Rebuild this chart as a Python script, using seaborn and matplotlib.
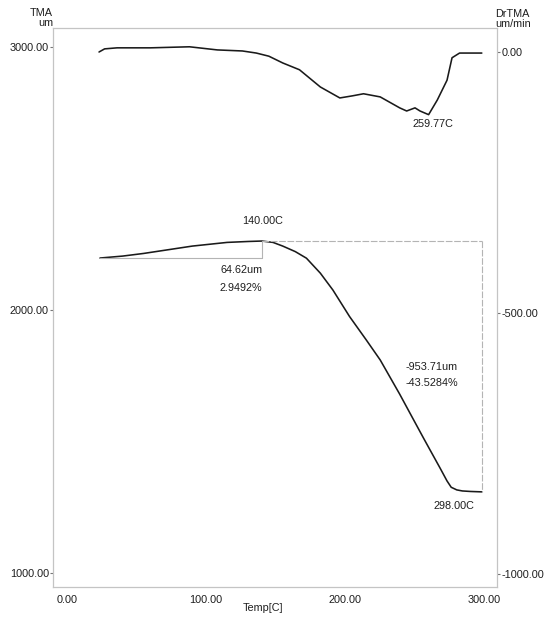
import matplotlib
matplotlib.use("Agg")
import matplotlib.pyplot as plt
from matplotlib.ticker import FormatStrFormatter, FixedLocator
import seaborn as sns
import pandas as pd

# TMA signal (left axis, um) versus temperature
tma_temp = [23.7, 40, 55, 70, 90, 115, 130, 140, 148, 155, 164, 172, 182, 191,
            203, 215, 225, 239, 248, 256, 261, 268, 273, 276, 280, 284, 290, 298]
tma_um = [2197.6, 2205, 2215, 2227, 2243, 2257, 2260.5, 2262.2, 2257, 2243, 2222,
          2197, 2140, 2076, 1975, 1886, 1810, 1680, 1592, 1514, 1466, 1399, 1350,
          1326, 1316, 1312, 1310, 1308.5]

# Derivative signal (right axis, um/min) versus temperature
dr_temp = [23, 27, 36, 60, 88, 108, 126, 136, 145, 155, 167, 182, 196, 205, 213,
           225, 239, 244, 247, 250, 253.6, 259.77, 266, 273, 276.6, 282, 298]
dr_um_min = [0, 6, 8, 8, 10, 4, 2, -2, -8, -21, -34, -67, -88, -84, -80, -86,
             -107, -113, -110, -107, -113, -120, -92, -54, -11, -2, -2]

# Analysis markers
onset_temp = 140.00
end_temp = 298.00
peak_temp = 259.77
rise_um = 64.62
rise_pct = "2.9492%"
drop_um = -953.71
drop_pct = "-43.5284%"

x_ticks = [0, 100, 200, 300]
left_ticks = [1000, 2000, 3000]
right_ticks = [-1000, -500, 0]

sns.set_theme(style="white")
plt.rcParams["font.family"] = ["Liberation Sans", "DejaVu Sans"]
plt.rcParams["axes.unicode_minus"] = False

txt = "#1e1e1e"
frame = "#c4c4c4"
guide = "#b4b4b4"
fs = 7.8

fig = plt.figure(figsize=(5.5, 6.19), dpi=100)
ax = fig.add_axes([53 / 550, 1 - 587 / 619, 444 / 550, 559 / 619])
ax2 = ax.twinx()

tma_df = pd.DataFrame({"Temp": tma_temp, "TMA": tma_um})
dr_df = pd.DataFrame({"Temp": dr_temp, "DrTMA": dr_um_min})

sns.lineplot(data=tma_df, x="Temp", y="TMA", ax=ax, color="#1a1a1a", lw=1.15,
             solid_joinstyle="round", solid_capstyle="round")
sns.lineplot(data=dr_df, x="Temp", y="DrTMA", ax=ax2, color="#1a1a1a", lw=1.15,
             solid_joinstyle="round", solid_capstyle="round")

ax.set_xlim(-10.06, 308.9)
ax.set_ylim(946.8, 3072.2)
ax2.set_ylim(-1024.9, 46.0)

# guide lines for the expansion step and the shrinkage step
start_um = tma_um[0]
peak_um = start_um + rise_um
end_um = peak_um + drop_um
ax.plot([tma_temp[0], onset_temp], [start_um, start_um], color=guide, lw=0.8)
ax.plot([onset_temp, onset_temp], [start_um, peak_um], color=guide, lw=0.8)
ax.plot([onset_temp, end_temp], [peak_um, peak_um], color=guide, lw=0.8,
        ls=(0, (6, 1.5)))
ax.plot([end_temp, end_temp], [peak_um, end_um], color=guide, lw=0.8,
        ls=(0, (6, 1.5)))

ax.annotate(f"{onset_temp:.2f}C", xy=(onset_temp, peak_um), xytext=(0.5, 14.4),
            textcoords="offset points", ha="center", va="center",
            fontsize=fs, color=txt)
ax.annotate(f"{rise_um:.2f}um", xy=(onset_temp, start_um), xytext=(-14.5, -8.6),
            textcoords="offset points", ha="center", va="center",
            fontsize=fs, color=txt)
ax.annotate(rise_pct, xy=(onset_temp, start_um), xytext=(-15.5, -21.6),
            textcoords="offset points", ha="center", va="center",
            fontsize=fs, color=txt)
ax.annotate(f"{drop_um:.2f}um", xy=(end_temp, peak_um), xytext=(-36, -90.5),
            textcoords="offset points", ha="center", va="center",
            fontsize=fs, color=txt)
ax.annotate(drop_pct, xy=(end_temp, peak_um), xytext=(-36, -102),
            textcoords="offset points", ha="center", va="center",
            fontsize=fs, color=txt)
ax.annotate(f"{end_temp:.2f}C", xy=(end_temp, end_um), xytext=(-20, -10),
            textcoords="offset points", ha="center", va="center",
            fontsize=fs, color=txt)
ax2.annotate(f"{peak_temp:.2f}C", xy=(peak_temp, min(dr_um_min)), xytext=(3, -6.5),
             textcoords="offset points", ha="center", va="center",
             fontsize=fs, color=txt)

# axes, ticks and frame
for a in (ax, ax2):
    for s in a.spines.values():
        s.set_color(frame)
        s.set_linewidth(0.8)
    a.grid(False)
    a.set_xlabel("")
    a.set_ylabel("")

ax.xaxis.set_major_locator(FixedLocator(x_ticks))
ax.xaxis.set_major_formatter(FormatStrFormatter("%.2f"))
ax.yaxis.set_major_locator(FixedLocator(left_ticks))
ax.yaxis.set_major_formatter(FormatStrFormatter("%.2f"))
ax2.yaxis.set_major_locator(FixedLocator(right_ticks))
ax2.yaxis.set_major_formatter(FormatStrFormatter("%.2f"))

ax.tick_params(axis="x", length=0, pad=6, labelsize=fs, labelcolor=txt)
ax.tick_params(axis="y", length=2.5, width=0.8, color="#777777", pad=0.5,
               labelsize=fs, labelcolor=txt, left=True)
ax2.tick_params(axis="y", length=2.5, width=0.8, color="#777777", pad=0.5,
                labelsize=fs, labelcolor=txt, right=True)

ax.set_xlabel("Temp[C]", fontsize=fs, color=txt)
ax.xaxis.set_label_coords((263 - 53) / 444, -0.029)
ax.xaxis.label.set_va("top")

fig.text(53 / 550, 1 - 13 / 619, "TMA", ha="right", va="center",
         fontsize=fs, color=txt)
fig.text(53 / 550, 1 - 23 / 619, "um", ha="right", va="center",
         fontsize=fs, color=txt)
fig.text(495 / 550, 1 - 14 / 619, "DrTMA", ha="left", va="center",
         fontsize=fs, color=txt)
fig.text(495 / 550, 1 - 24 / 619, "um/min", ha="left", va="center",
         fontsize=fs, color=txt)

fig.savefig("out.png", dpi=100, facecolor="white")
